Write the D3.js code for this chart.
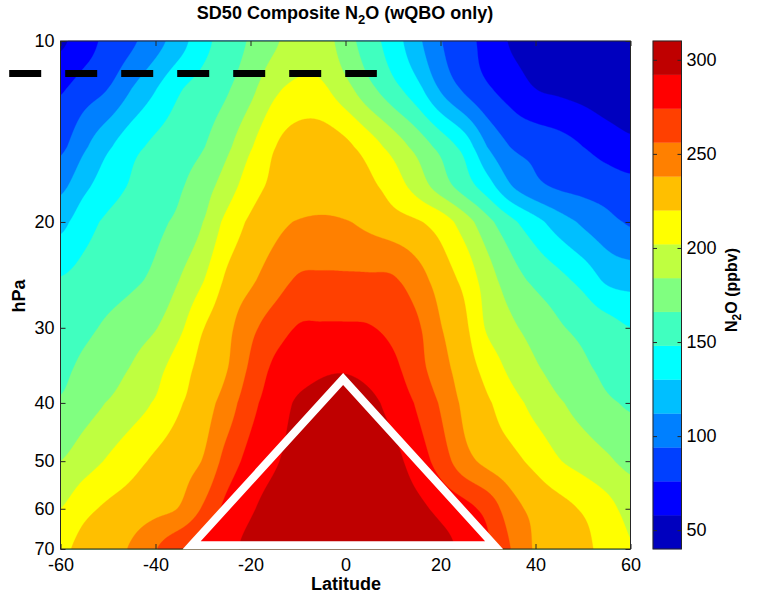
<!DOCTYPE html>
<html>
<head>
<meta charset="utf-8">
<script src="https://cdn.jsdelivr.net/npm/d3@7"></script>
<style>
  body { margin: 0; background: #fff; }
  svg { display: block; }
  text { font-family: "Liberation Sans", Arial, Helvetica, sans-serif; }
</style>
</head>
<body>
<svg id="chart" width="760" height="597"></svg>
<script>
// ---------------- data ----------------
const lats = [-60,-55,-50,-45,-40,-35,-30,-25,-20,-15,-10,-5,0,5,10,15,20,25,30,35,40,45,50,55,60];
const pressures = [10, 12, 15, 17.5, 20, 25, 30, 35, 40, 50, 60, 70];
// N2O (ppbv), one row per pressure level, one column per latitude
const n2o_10   = [55,68,81,91,105,122,142,156,168,181,193,193,174,156,139,117,95,82,70,56,52,49,47,45,44];
const n2o_12   = [74,85,94,112,129,146,155,164,179,198,206,205,190,171,154,136,110,91,78,68,58,55,52,48,46];
const n2o_15   = [90,109,127,142,152,158,165,180,200,219,229,230,224,211,195,178,160,141,111,93,88,83,76,68,62];
const n2o_17_5 = [108,126,140,150,157,164,176,193,212,224,228,229,228,224,212,195,176,158,138,113,99,92,89,86,82];
const n2o_20   = [125,141,151,156,162,170,184,207,223,233,239,241,239,234,228,222,212,193,171,152,136,121,109,100,92];
const n2o_25   = [149,154,158,163,170,184,201,223,235,247,258,259,259,259,258,246,230,215,192,174,162,153,142,127,123];
const n2o_30   = [156,162,169,176,183,198,219,233,251,265,275,276,276,275,269,259,239,224,199,187,177,168,161,155,148];
const n2o_35   = [162,170,177,185,196,211,226,237,259,277,284,289,290,286,278,263,245,229,213,197,186,177,169,162,157];
const n2o_40   = [168,177,185,194,204,218,230,246,268,283,294,298,300,296,286,272,254,234,222,209,196,186,177,169,164];
const n2o_50   = [184,194,204,214,223,231,239,263,280,290,298,303,305,303,297,284,266,245,233,225,215,203,195,187,179];
const n2o_60   = [202,215,223,228,233,239,258,279,290,298,303,306,307,305,301,296,288,280,267,245,233,226,218,208,196];
const n2o_70   = [216,226,232,240,255,270,280,288,296,301,305,307,308,307,305,301,296,289,276,255,236,230,224,214,203];
const n2o = [n2o_10, n2o_12, n2o_15, n2o_17_5, n2o_20, n2o_25, n2o_30, n2o_35, n2o_40, n2o_50, n2o_60, n2o_70];

const levels = [40,58,76,94,112,130,148,166,184,202,220,238,256,274,292,310];
const colors = ["#0000BF","#0000FF","#0040FF","#0080FF","#00BFFF","#00FFFF","#40FFBF","#80FF80",
                "#BFFF40","#FFFF00","#FFBF00","#FF8000","#FF4000","#FF0000","#BF0000"];
const xTicks = [-60,-40,-20,0,20,40,60];
const yTicks = [10,20,30,40,50,60,70];
const cbTicks = [50,100,150,200,250,300];
// overlay annotations
const dashLats = [-70.8, 6.6];
const dashP = 11.33;
const triLats = [-32.4, -0.5, 31.3];
const triP = [69, 36.5, 69];

// ---------------- layout ----------------
const X0 = 60.5, X1 = 630.5, Y0 = 41, Y1 = 549;
const CB0 = 653, CB1 = 681.5;
const axisColor = "#262626";
const svg = d3.select("#chart");

const x = d3.scaleLinear().domain([-60, 60]).range([X0, X1]);
const y = d3.scaleLog().domain([10, 70]).range([Y0, Y1]);
const c = d3.scaleLinear().domain([40, 310]).range([Y1, Y0]);

// ---------------- field (Catmull-Rom in lat / log p) ----------------
const nx = Math.round(X1 - X0), ny = Math.round(Y1 - Y0);
const logP = pressures.map(Math.log);
function seg(arr, v) {
  const i = d3.bisectRight(arr, v) - 1;
  return Math.max(0, Math.min(arr.length - 2, i));
}
const clampI = (i, n) => Math.max(0, Math.min(n - 1, i));
function cr(p0, p1, p2, p3, t) {
  const t2 = t * t, t3 = t2 * t;
  return 0.5 * (2 * p1 + (-p0 + p2) * t + (2 * p0 - 5 * p1 + 4 * p2 - p3) * t2 + (-p0 + 3 * p1 - 3 * p2 + p3) * t3);
}
const nc = lats.length, nr = pressures.length;
const rowInterp = n2o.map(row => {
  const out = new Float64Array(nx);
  for (let i = 0; i < nx; i++) {
    const la = x.invert(X0 + i + 0.5);
    const k = seg(lats, la);
    const t = (la - lats[k]) / (lats[k + 1] - lats[k]);
    out[i] = cr(row[clampI(k - 1, nc)], row[k], row[k + 1], row[clampI(k + 2, nc)], t);
  }
  return out;
});
const vals = new Float64Array(nx * ny);
for (let j = 0; j < ny; j++) {
  const lp = Math.log(y.invert(Y0 + j + 0.5));
  const r = seg(logP, lp);
  const u = (lp - logP[r]) / (logP[r + 1] - logP[r]);
  const a = rowInterp[clampI(r - 1, nr)], b = rowInterp[r], cc = rowInterp[r + 1], d = rowInterp[clampI(r + 2, nr)];
  for (let i = 0; i < nx; i++) {
    vals[j * nx + i] = cr(a[i], b[i], cc[i], d[i], u);
  }
}
const contours = d3.contours().size([nx, ny]).thresholds(levels.slice(0, -1))(vals);
const path = d3.geoPath(d3.geoIdentity().translate([X0, Y0]));

svg.append("g")
  .selectAll("path")
  .data(contours)
  .join("path")
  .attr("d", path)
  .attr("fill", (d, i) => colors[i])
  .attr("stroke", (d, i) => colors[i])
  .attr("stroke-width", 0.3);

// ---------------- axes ----------------
function styleAxis(g) {
  g.attr("font-size", 18).attr("font-family", "Liberation Sans, Arial, sans-serif");
  g.select(".domain").remove();
  g.selectAll(".tick line").attr("stroke", axisColor);
  g.selectAll(".tick text").attr("fill", "#000");
}
svg.append("g").attr("transform", `translate(0,${Y1})`)
  .call(d3.axisBottom(x).tickValues(xTicks).tickSize(-5).tickPadding(9).tickFormat(d => String(d)))
  .call(styleAxis);
svg.append("g").attr("transform", `translate(0,${Y0})`)
  .call(d3.axisTop(x).tickValues(xTicks).tickSize(-5).tickFormat(""))
  .call(styleAxis);
svg.append("g").attr("transform", `translate(${X0},0)`)
  .call(d3.axisLeft(y).tickValues(yTicks).tickSize(-5).tickPadding(6).tickFormat(d => String(d)))
  .call(styleAxis);
svg.append("g").attr("transform", `translate(${X1},0)`)
  .call(d3.axisRight(y).tickValues(yTicks).tickSize(-5).tickFormat(""))
  .call(styleAxis);
svg.append("rect")
  .attr("x", X0).attr("y", Y0).attr("width", X1 - X0).attr("height", Y1 - Y0)
  .attr("fill", "none").attr("stroke", axisColor).attr("stroke-width", 1);

// ---------------- colorbar ----------------
const bands = d3.range(colors.length);
svg.append("g").selectAll("rect")
  .data(bands)
  .join("rect")
  .attr("x", CB0).attr("width", CB1 - CB0)
  .attr("y", i => c(levels[i + 1]))
  .attr("height", i => c(levels[i]) - c(levels[i + 1]))
  .attr("fill", i => colors[i])
  .attr("stroke", i => colors[i]).attr("stroke-width", 0.3);
svg.append("g").attr("transform", `translate(${CB0},0)`)
  .call(d3.axisLeft(c).tickValues(cbTicks).tickSize(-4).tickFormat(""))
  .call(styleAxis);
svg.append("g").attr("transform", `translate(${CB1},0)`)
  .call(d3.axisRight(c).tickValues(cbTicks).tickSize(-4).tickPadding(5).tickFormat(d => String(d)))
  .call(styleAxis);
svg.append("rect")
  .attr("x", CB0).attr("y", Y0).attr("width", CB1 - CB0).attr("height", Y1 - Y0)
  .attr("fill", "none").attr("stroke", axisColor).attr("stroke-width", 1);

// ---------------- overlays ----------------
svg.append("line")
  .attr("x1", x(dashLats[0])).attr("x2", x(dashLats[1]))
  .attr("y1", y(dashP)).attr("y2", y(dashP))
  .attr("stroke", "#000").attr("stroke-width", 7)
  .attr("stroke-dasharray", "32 24");

const tri = triLats.map((la, i) => [x(la), y(triP[i])]);
svg.append("path")
  .attr("d", d3.line()(tri) + "Z")
  .attr("fill", "none").attr("stroke", "#fff").attr("stroke-width", 8)
  .attr("stroke-linejoin", "miter");

// ---------------- titles ----------------
const title = svg.append("text")
  .attr("x", 345).attr("y", 19).attr("text-anchor", "middle")
  .attr("font-size", 18).attr("font-weight", "bold").attr("fill", "#000");
title.append("tspan").text("SD50 Composite N");
title.append("tspan").attr("dy", 5).attr("font-size", 13).text("2");
title.append("tspan").attr("dy", -5).text("O (wQBO only)");

svg.append("text")
  .attr("x", 346).attr("y", 590).attr("text-anchor", "middle")
  .attr("font-size", 18).attr("font-weight", "bold").attr("fill", "#000")
  .text("Latitude");

svg.append("text")
  .attr("transform", "translate(25,296) rotate(-90)")
  .attr("text-anchor", "middle")
  .attr("font-size", 18).attr("font-weight", "bold").attr("fill", "#000")
  .text("hPa");

const cbl = svg.append("text")
  .attr("transform", "translate(737,290) rotate(-90)")
  .attr("text-anchor", "middle")
  .attr("font-size", 16).attr("font-weight", "bold").attr("fill", "#000");
cbl.append("tspan").text("N");
cbl.append("tspan").attr("dy", 4).attr("font-size", 12).text("2");
cbl.append("tspan").attr("dy", -4).text("O (ppbv)");
</script>
</body>
</html>
